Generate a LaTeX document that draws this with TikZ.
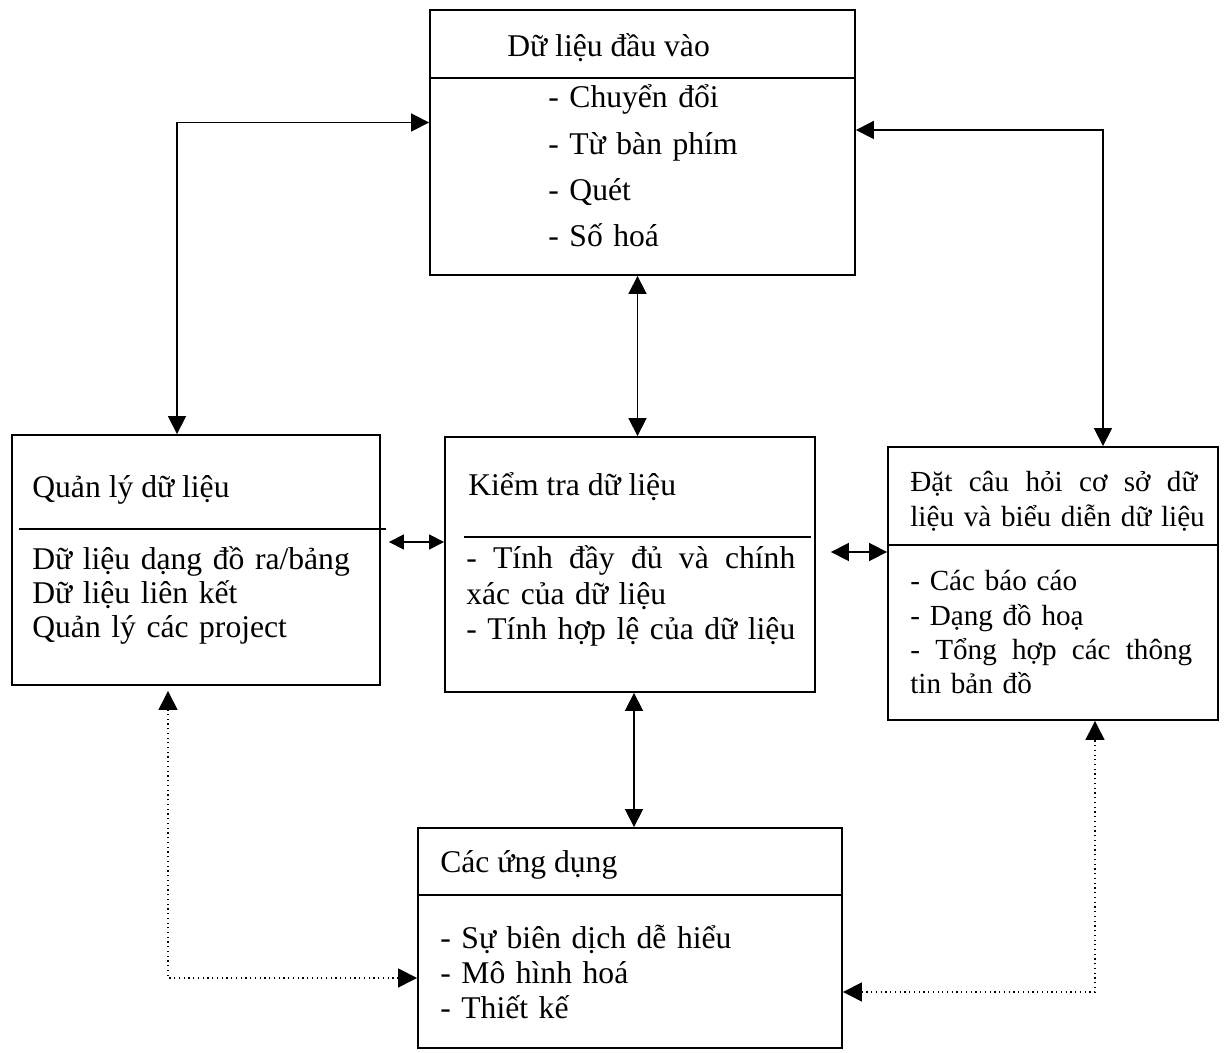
\documentclass[tikz,border=0pt]{standalone}
\usepackage{fontspec}
\setmainfont{Liberation Serif}
\usetikzlibrary{arrows.meta,positioning,calc}
% a justified line of given width (ragged nodes freeze the spaces)
\newcommand{\spreadline}[2]{\makebox[#1][s]{\spaceskip=.25em plus 1em\relax #2}}
\tikzset{
  panel/.style={rectangle, draw=black, line width=1.1pt, inner sep=0pt},
  rule/.style={line width=0.9pt},
  head/.style={anchor=base west, inner sep=0pt, font=\fontsize{18}{21}\selectfont},
  list/.style={anchor=base west, inner sep=0pt, align=left, text width=#1},
  link/.style={{Triangle[length=0.36cm,width=0.36cm]}-{Triangle[length=0.36cm,width=0.36cm]}, line width=1pt},
  slink/.style={{Triangle[length=0.3cm,width=0.3cm]}-{Triangle[length=0.3cm,width=0.3cm]}, line width=0.8pt},
  weak/.style={{Triangle[length=0.38cm,width=0.38cm]}-{Triangle[length=0.38cm,width=0.38cm]}, line width=0.7pt, dotted},
}

\begin{document}
\begin{tikzpicture}[x=0.02cm, y=-0.02cm]
\useasboundingbox (0,0) rectangle (1225,1053);

% the five boxes
\node[panel, minimum width=8.5cm, minimum height=5.3cm] (inp) at (642.5,142.5) {};
\node[panel, minimum width=7.36cm, minimum height=5cm] (qly) at (196,560) {};
\node[panel, minimum width=7.4cm, minimum height=5.1cm] (ktr) at (630,564.5) {};
\node[panel, minimum width=6.6cm, minimum height=5.46cm] (dat) at (1053,583.5) {};
\node[panel, minimum width=8.48cm, minimum height=4.4cm] (ung) at (630,938) {};

% title / content separators
\draw[rule] (inp.west |- 0,78) -- (inp.east |- 0,78);
\draw[rule] ([xshift=0.16cm]qly.west |- 0,529) -- ([xshift=0.1cm]qly.east |- 0,529);
\draw[rule] ([xshift=0.4cm]ktr.west |- 0,537) -- ([xshift=-0.1cm]ktr.east |- 0,537);
\draw[rule] (dat.west |- 0,545) -- (dat.east |- 0,545);
\draw[rule] (ung.west |- 0,895) -- (ung.east |- 0,895);

% texts
\node[head] (inp-t) at (507,57) {Dữ liệu đầu vào};
\node[list=6cm, font=\fontsize{18}{26.2}\selectfont] (inp-l) at (548,108) {- Chuyển đổi\\- Từ bàn phím\\- Quét\\- Số hoá};

\node[head] (qly-t) at (32,498) {Quản lý dữ liệu};
\node[list=6.9cm, font=\fontsize{18}{19.3}\selectfont] (qly-l) at (32,570) {Dữ liệu dạng đồ ra/bảng\\Dữ liệu liên kết\\Quản lý các project};

\node[head] (ktr-t) at (468,496) {Kiểm tra dữ liệu};
\node[list=6.8cm, font=\fontsize{18}{20.2}\selectfont] (ktr-l) at (466,569) {\spreadline{6.58cm}{- Tính đầy đủ và chính}\\xác của dữ liệu\\- Tính hợp lệ của dữ liệu};

\node[list=6.1cm, font=\fontsize{16.6}{19.9}\selectfont] (dat-t) at (910,492) {\spreadline{5.74cm}{Đặt câu hỏi cơ sở dữ}\\liệu và biểu diễn dữ liệu};
\node[list=6.1cm, font=\fontsize{16.6}{19.5}\selectfont] (dat-l) at (910,591) {- Các báo cáo\\- Dạng đồ hoạ\\\spreadline{5.64cm}{- Tổng hợp các thông}\\tin bản đồ};

\node[head] (ung-t) at (440,873) {Các ứng dụng};
\node[list=7.6cm, font=\fontsize{18}{19.9}\selectfont] (ung-l) at (440,949) {- Sự biên dịch dễ hiểu\\- Mô hình hoá\\- Thiết kế};

% connectors
\draw[link] ([yshift=0.4cm]inp.west) -| ([xshift=-0.38cm]qly.north);
\draw[link] ([yshift=0.25cm]inp.east) -| ([xshift=1cm]dat.north);
\draw[link] ([xshift=-0.1cm]inp.south) -- ([xshift=-0.1cm]inp.south |- ktr.north);
\draw[link] ([xshift=0.08cm]ktr.south) -- ([xshift=0.08cm]ktr.south |- ung.north);
\draw[slink, shorten <=0.16cm] ([yshift=0.36cm]qly.east) -- ([yshift=0.36cm]qly.east -| ktr.west);
\draw[link, shorten <=0.3cm] ([yshift=0.25cm]ktr.east) -- ([yshift=0.25cm]ktr.east -| dat.west);
\draw[weak, shorten >=0.1cm] ([yshift=-0.8cm]ung.west) -| ([xshift=-0.56cm]qly.south);
\draw[weak] ([yshift=-1.08cm]ung.east) -| ([xshift=0.84cm]dat.south);
\end{tikzpicture}
\end{document}
